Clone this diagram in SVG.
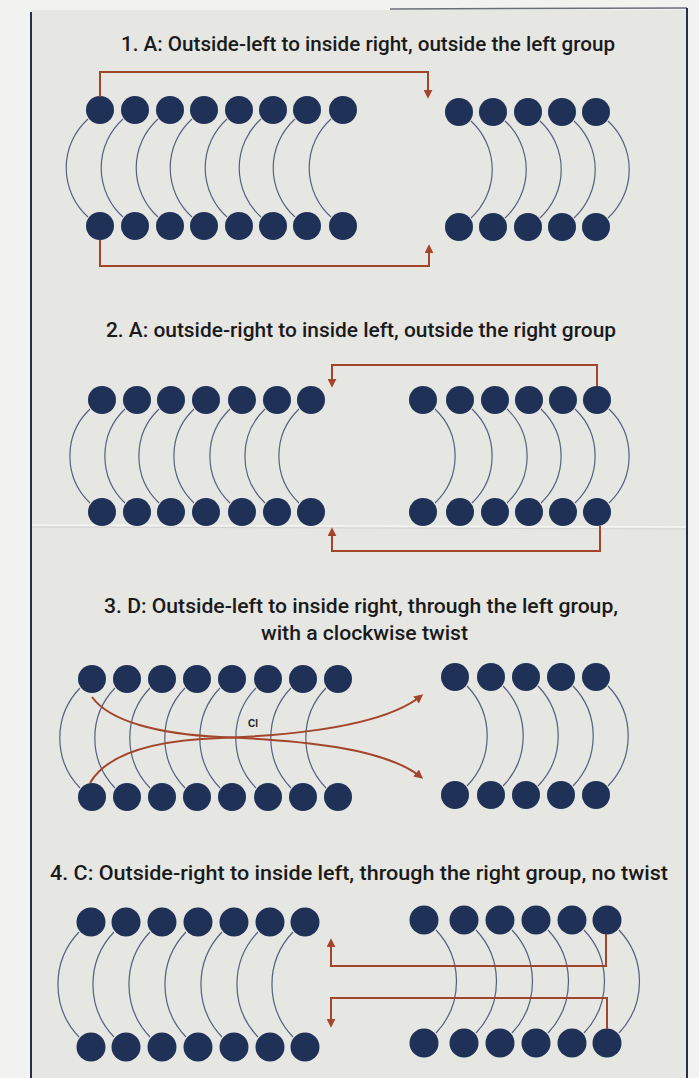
<svg xmlns="http://www.w3.org/2000/svg" width="699" height="1078" viewBox="0 0 699 1078">
<defs>
<style>
.h{fill:#1f3156}
.t{fill:none;stroke:#56607f;stroke-width:1.2}
.r{fill:none;stroke:#a3452b;stroke-width:2;marker-end:url(#ah)}
.ti{font-family:Roboto,"Noto Sans","Liberation Sans",sans-serif;font-size:20px;font-weight:500;fill:#1a1a1a}
.lb{font-family:"Liberation Sans",Arial,sans-serif;font-size:10px;font-weight:bold;fill:#222}
</style>
<marker id="ah" viewBox="0 0 10 10" refX="7" refY="5" markerWidth="9" markerHeight="9" markerUnits="userSpaceOnUse" orient="auto"><path d="M0,0 L10,5 L0,10 z" fill="#a3452b"/></marker>
</defs>
<g id="paper">
<rect width="699" height="1078" fill="#f2f2f0"/>
<rect x="31" y="10" width="656" height="1068" fill="#e6e6e3"/>
<line x1="390" y1="9" x2="687" y2="8" stroke="#6a6e78" stroke-width="1.5"/>
<line x1="31" y1="12" x2="31" y2="1078" stroke="#26304a" stroke-width="2"/>
<line x1="687" y1="8" x2="687" y2="1078" stroke="#26304a" stroke-width="2"/>
<line x1="32" y1="525" x2="686" y2="527" stroke="#f6f6f4" stroke-width="1.5"/>
<line x1="32" y1="527" x2="686" y2="529" stroke="#d2d2cf" stroke-width="1"/>
</g>
<g id="titles">
<text class="ti" x="121" y="51" textLength="494" lengthAdjust="spacingAndGlyphs">1. A: Outside-left to inside right, outside the left group</text>
<text class="ti" x="106" y="337" textLength="510" lengthAdjust="spacingAndGlyphs">2. A: outside-right to inside left, outside the right group</text>
<text class="ti" x="104" y="613" textLength="514" lengthAdjust="spacingAndGlyphs">3. D: Outside-left to inside right, through the left group,</text>
<text class="ti" x="261" y="640" textLength="207" lengthAdjust="spacingAndGlyphs">with a clockwise twist</text>
<text class="ti" x="50" y="880" textLength="618" lengthAdjust="spacingAndGlyphs">4. C: Outside-right to inside left, through the right group, no twist</text>
</g>
<!-- Panel 1 -->
<g id="p1-l1"><path class="t" d="M88,119 A66,66 0 0 0 88,217"/><circle class="h" cx="100" cy="110" r="14"/><circle class="h" cx="100" cy="226" r="14"/></g>
<g id="p1-l2"><path class="t" d="M123,119 A66,66 0 0 0 123,217"/><circle class="h" cx="135" cy="110" r="14"/><circle class="h" cx="135" cy="226" r="14"/></g>
<g id="p1-l3"><path class="t" d="M158,119 A66,66 0 0 0 158,217"/><circle class="h" cx="170" cy="110" r="14"/><circle class="h" cx="170" cy="226" r="14"/></g>
<g id="p1-l4"><path class="t" d="M192,119 A66,66 0 0 0 192,217"/><circle class="h" cx="204" cy="110" r="14"/><circle class="h" cx="204" cy="226" r="14"/></g>
<g id="p1-l5"><path class="t" d="M227,119 A66,66 0 0 0 227,217"/><circle class="h" cx="239" cy="110" r="14"/><circle class="h" cx="239" cy="226" r="14"/></g>
<g id="p1-l6"><path class="t" d="M261,119 A66,66 0 0 0 261,217"/><circle class="h" cx="273" cy="110" r="14"/><circle class="h" cx="273" cy="226" r="14"/></g>
<g id="p1-l7"><path class="t" d="M295,119 A66,66 0 0 0 295,217"/><circle class="h" cx="307" cy="110" r="14"/><circle class="h" cx="307" cy="226" r="14"/></g>
<g id="p1-l8"><path class="t" d="M331,119 A66,66 0 0 0 331,217"/><circle class="h" cx="343" cy="110" r="14"/><circle class="h" cx="343" cy="226" r="14"/></g>
<g id="p1-r1"><path class="t" d="M471,121 A66,66 0 0 1 471,218"/><circle class="h" cx="459" cy="112" r="14"/><circle class="h" cx="459" cy="227" r="14"/></g>
<g id="p1-r2"><path class="t" d="M505,121 A66,66 0 0 1 505,218"/><circle class="h" cx="493" cy="112" r="14"/><circle class="h" cx="493" cy="227" r="14"/></g>
<g id="p1-r3"><path class="t" d="M540,121 A66,66 0 0 1 540,218"/><circle class="h" cx="528" cy="112" r="14"/><circle class="h" cx="528" cy="227" r="14"/></g>
<g id="p1-r4"><path class="t" d="M574,121 A66,66 0 0 1 574,218"/><circle class="h" cx="562" cy="112" r="14"/><circle class="h" cx="562" cy="227" r="14"/></g>
<g id="p1-r5"><path class="t" d="M608,121 A66,66 0 0 1 608,218"/><circle class="h" cx="596" cy="112" r="14"/><circle class="h" cx="596" cy="227" r="14"/></g>
<!-- Panel 2 -->
<g id="p2-l1"><path class="t" d="M90,409 A65,65 0 0 0 90,503"/><circle class="h" cx="102" cy="400" r="14"/><circle class="h" cx="102" cy="512" r="14"/></g>
<g id="p2-l2"><path class="t" d="M125,409 A65,65 0 0 0 125,503"/><circle class="h" cx="137" cy="400" r="14"/><circle class="h" cx="137" cy="512" r="14"/></g>
<g id="p2-l3"><path class="t" d="M159,409 A65,65 0 0 0 159,503"/><circle class="h" cx="171" cy="400" r="14"/><circle class="h" cx="171" cy="512" r="14"/></g>
<g id="p2-l4"><path class="t" d="M194,409 A65,65 0 0 0 194,503"/><circle class="h" cx="206" cy="400" r="14"/><circle class="h" cx="206" cy="512" r="14"/></g>
<g id="p2-l5"><path class="t" d="M230,409 A65,65 0 0 0 230,503"/><circle class="h" cx="242" cy="400" r="14"/><circle class="h" cx="242" cy="512" r="14"/></g>
<g id="p2-l6"><path class="t" d="M265,409 A65,65 0 0 0 265,503"/><circle class="h" cx="277" cy="400" r="14"/><circle class="h" cx="277" cy="512" r="14"/></g>
<g id="p2-l7"><path class="t" d="M299,409 A65,65 0 0 0 299,503"/><circle class="h" cx="311" cy="400" r="14"/><circle class="h" cx="311" cy="512" r="14"/></g>
<g id="p2-r1"><path class="t" d="M435,409 A65,65 0 0 1 435,503"/><circle class="h" cx="423" cy="400" r="14"/><circle class="h" cx="423" cy="512" r="14"/></g>
<g id="p2-r2"><path class="t" d="M472,409 A65,65 0 0 1 472,503"/><circle class="h" cx="460" cy="400" r="14"/><circle class="h" cx="460" cy="512" r="14"/></g>
<g id="p2-r3"><path class="t" d="M507,409 A65,65 0 0 1 507,503"/><circle class="h" cx="495" cy="400" r="14"/><circle class="h" cx="495" cy="512" r="14"/></g>
<g id="p2-r4"><path class="t" d="M541,409 A65,65 0 0 1 541,503"/><circle class="h" cx="529" cy="400" r="14"/><circle class="h" cx="529" cy="512" r="14"/></g>
<g id="p2-r5"><path class="t" d="M575,409 A65,65 0 0 1 575,503"/><circle class="h" cx="563" cy="400" r="14"/><circle class="h" cx="563" cy="512" r="14"/></g>
<g id="p2-r6"><path class="t" d="M609,409 A65,65 0 0 1 609,503"/><circle class="h" cx="597" cy="400" r="14"/><circle class="h" cx="597" cy="512" r="14"/></g>
<!-- Panel 3 -->
<g id="p3-l1"><path class="t" d="M80,688 A72,72 0 0 0 80,788"/><circle class="h" cx="92" cy="679" r="14"/><circle class="h" cx="92" cy="797" r="14"/></g>
<g id="p3-l2"><path class="t" d="M115,688 A72,72 0 0 0 115,788"/><circle class="h" cx="127" cy="679" r="14"/><circle class="h" cx="127" cy="797" r="14"/></g>
<g id="p3-l3"><path class="t" d="M150,688 A72,72 0 0 0 150,788"/><circle class="h" cx="162" cy="679" r="14"/><circle class="h" cx="162" cy="797" r="14"/></g>
<g id="p3-l4"><path class="t" d="M185,688 A72,72 0 0 0 185,788"/><circle class="h" cx="197" cy="679" r="14"/><circle class="h" cx="197" cy="797" r="14"/></g>
<g id="p3-l5"><path class="t" d="M220,688 A72,72 0 0 0 220,788"/><circle class="h" cx="232" cy="679" r="14"/><circle class="h" cx="232" cy="797" r="14"/></g>
<g id="p3-l6"><path class="t" d="M256,688 A72,72 0 0 0 256,788"/><circle class="h" cx="268" cy="679" r="14"/><circle class="h" cx="268" cy="797" r="14"/></g>
<g id="p3-l7"><path class="t" d="M291,688 A72,72 0 0 0 291,788"/><circle class="h" cx="303" cy="679" r="14"/><circle class="h" cx="303" cy="797" r="14"/></g>
<g id="p3-l8"><path class="t" d="M326,688 A72,72 0 0 0 326,788"/><circle class="h" cx="338" cy="679" r="14"/><circle class="h" cx="338" cy="797" r="14"/></g>
<g id="p3-r1"><path class="t" d="M467,686 A72,72 0 0 1 467,786"/><circle class="h" cx="455" cy="677" r="14"/><circle class="h" cx="455" cy="795" r="14"/></g>
<g id="p3-r2"><path class="t" d="M503,686 A72,72 0 0 1 503,786"/><circle class="h" cx="491" cy="677" r="14"/><circle class="h" cx="491" cy="795" r="14"/></g>
<g id="p3-r3"><path class="t" d="M538,686 A72,72 0 0 1 538,786"/><circle class="h" cx="526" cy="677" r="14"/><circle class="h" cx="526" cy="795" r="14"/></g>
<g id="p3-r4"><path class="t" d="M573,686 A72,72 0 0 1 573,786"/><circle class="h" cx="561" cy="677" r="14"/><circle class="h" cx="561" cy="795" r="14"/></g>
<g id="p3-r5"><path class="t" d="M608,686 A72,72 0 0 1 608,786"/><circle class="h" cx="596" cy="677" r="14"/><circle class="h" cx="596" cy="795" r="14"/></g>
<!-- Panel 4 -->
<g id="p4-l1"><path class="t" d="M79,932 A76,76 0 0 0 79,1037"/><circle class="h" cx="91" cy="922" r="14.5"/><circle class="h" cx="91" cy="1047" r="14.5"/></g>
<g id="p4-l2"><path class="t" d="M114,932 A76,76 0 0 0 114,1037"/><circle class="h" cx="126" cy="922" r="14.5"/><circle class="h" cx="126" cy="1047" r="14.5"/></g>
<g id="p4-l3"><path class="t" d="M150,932 A76,76 0 0 0 150,1037"/><circle class="h" cx="162" cy="922" r="14.5"/><circle class="h" cx="162" cy="1047" r="14.5"/></g>
<g id="p4-l4"><path class="t" d="M186,932 A76,76 0 0 0 186,1037"/><circle class="h" cx="198" cy="922" r="14.5"/><circle class="h" cx="198" cy="1047" r="14.5"/></g>
<g id="p4-l5"><path class="t" d="M222,932 A76,76 0 0 0 222,1037"/><circle class="h" cx="234" cy="922" r="14.5"/><circle class="h" cx="234" cy="1047" r="14.5"/></g>
<g id="p4-l6"><path class="t" d="M258,932 A76,76 0 0 0 258,1037"/><circle class="h" cx="270" cy="922" r="14.5"/><circle class="h" cx="270" cy="1047" r="14.5"/></g>
<g id="p4-l7"><path class="t" d="M293,932 A76,76 0 0 0 293,1037"/><circle class="h" cx="305" cy="922" r="14.5"/><circle class="h" cx="305" cy="1047" r="14.5"/></g>
<g id="p4-r1"><path class="t" d="M436,930 A75,75 0 0 1 436,1033"/><circle class="h" cx="424" cy="920" r="14.5"/><circle class="h" cx="424" cy="1043" r="14.5"/></g>
<g id="p4-r2"><path class="t" d="M476,930 A75,75 0 0 1 476,1033"/><circle class="h" cx="464" cy="920" r="14.5"/><circle class="h" cx="464" cy="1043" r="14.5"/></g>
<g id="p4-r3"><path class="t" d="M512,930 A75,75 0 0 1 512,1033"/><circle class="h" cx="500" cy="920" r="14.5"/><circle class="h" cx="500" cy="1043" r="14.5"/></g>
<g id="p4-r4"><path class="t" d="M548,930 A75,75 0 0 1 548,1033"/><circle class="h" cx="536" cy="920" r="14.5"/><circle class="h" cx="536" cy="1043" r="14.5"/></g>
<g id="p4-r5"><path class="t" d="M584,930 A75,75 0 0 1 584,1033"/><circle class="h" cx="572" cy="920" r="14.5"/><circle class="h" cx="572" cy="1043" r="14.5"/></g>
<g id="p4-r6"><path class="t" d="M619,930 A75,75 0 0 1 619,1033"/><circle class="h" cx="607" cy="920" r="14.5"/><circle class="h" cx="607" cy="1043" r="14.5"/></g>
<g id="connectors">
<path class="r" d="M100,97 V72 H428 V96"/>
<path class="r" d="M100,240 V266 H429 V247"/>
<path class="r" d="M597,386 V365 H332 V385"/>
<path class="r" d="M600,526 V551 H332 V530"/>
<path class="r" d="M92,697 C110,722 160,734 220,737 C300,740 385,748 421,777"/>
<path class="r" d="M90,783 C108,752 160,740 220,738 C300,735 385,725 421,696"/>
<path class="r" d="M606,934 V966 H331 V941"/>
<path class="r" d="M607,1029 V998 H331 V1025"/>
<text class="lb" x="248" y="727">Cl</text>
</g>
</svg>
